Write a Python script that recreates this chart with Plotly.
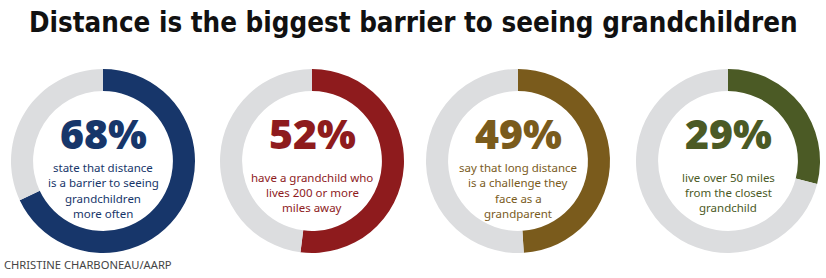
import plotly.graph_objects as go

title = "Distance is the biggest barrier to seeing grandchildren"
values = [68, 52, 49, 29]
labels = ["68%", "52%", "49%", "29%"]
descriptions = [
    ["state that distance", "is a barrier to seeing", "grandchildren", "more often"],
    ["have a grandchild who", "lives 200 or more", "miles away"],
    ["say that long distance", "is a challenge they", "face as a", "grandparent"],
    ["live over 50 miles", "from the closest", "grandchild"],
]
colors = ["#17366a", "#8e1b1d", "#7a5b1c", "#4b5a25"]
rest_color = "#dcdddf"
credit = "CHRISTINE CHARBONEAU/AARP"

W, H = 826, 278
centers_x = [103, 312, 518, 728]
center_y = 161
R = 92

fig = go.Figure()
for i, v in enumerate(values):
    cx = centers_x[i]
    fig.add_trace(go.Pie(
        values=[v, 100 - v],
        marker=dict(colors=[colors[i], rest_color], line=dict(width=0)),
        hole=0.76,
        sort=False,
        direction="clockwise",
        rotation=0,
        textinfo="none",
        hoverinfo="skip",
        showlegend=False,
        domain=dict(x=[(cx - R) / W, (cx + R) / W],
                    y=[(H - center_y - R) / H, (H - center_y + R) / H]),
    ))
    fig.add_annotation(x=cx / W, y=(H - 133) / H, xref="paper", yref="paper",
                       text=labels[i], showarrow=False,
                       font=dict(family="Open Sans", size=41, color=colors[i], weight=800),
                       xanchor="center", yanchor="middle")
    start = 167.5 if len(descriptions[i]) == 4 else 177
    for k, line in enumerate(descriptions[i]):
        fig.add_annotation(x=cx / W, y=(H - (start + 15.3 * k)) / H, xref="paper", yref="paper",
                           text=line, showarrow=False, align="center",
                           font=dict(family="Noto Sans", size=11.5, color=colors[i]),
                           xanchor="center", yanchor="middle")

fig.add_annotation(x=0.5, y=(H - 22) / H, xref="paper", yref="paper",
                   text="<b>" + title + "</b>", showarrow=False,
                   font=dict(family="DejaVu Sans Condensed", size=27.5, color="#111111"),
                   xanchor="center", yanchor="middle")
fig.add_annotation(x=2 / W, y=(H - 264) / H, xref="paper", yref="paper",
                   text=credit, showarrow=False,
                   font=dict(family="Noto Sans", size=11.2, color="#444444"),
                   xanchor="left", yanchor="middle")

fig.update_layout(width=W, height=H, margin=dict(l=0, r=0, t=0, b=0),
                  paper_bgcolor="white", plot_bgcolor="white")
fig.write_html("out.html")
